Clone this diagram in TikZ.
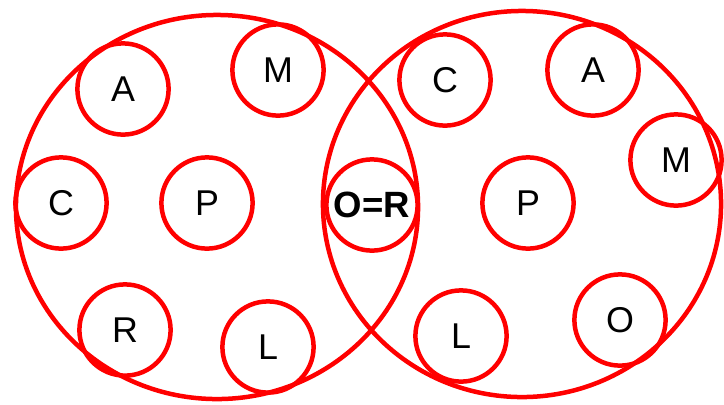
\documentclass[tikz,border=0pt]{standalone}
\usepackage{fontspec}
\setsansfont{Liberation Sans}
\usetikzlibrary{shapes.geometric}

\begin{document}
\begin{tikzpicture}[
    x=0.025cm, y=-0.025cm,
    font=\sffamily\fontsize{25.5}{30}\selectfont,
    set/.style={draw=red, line width=3.2pt, ellipse, inner sep=0pt},
    elem/.style={draw=red, line width=3.2pt, circle, inner sep=0pt,
                 minimum size=2.28cm, text=black}
]
\useasboundingbox (0,0) rectangle (724,404);

% Two sets
\node[set, minimum width=10.05cm, minimum height=9.6cm] (setL) at (217,207) {};
\node[set, minimum width=9.95cm, minimum height=9.65cm] (setR) at (522,204) {};

% Left set
\node[elem] (lA) at (123,89) {A};
\node[elem] (lM) at (278,70) {M};
\node[elem] (lC) at (61,203) {C};
\node[elem] (lP) at (207,203) {P};
\node[elem] (lR) at (125,330) {R};
\node[elem] (lL) at (268,347) {L};

% Shared element
\node[elem, font=\sffamily\bfseries\fontsize{26}{30}\selectfont] (mid) at (372,205) {O=R};

% Right set
\node[elem] (rC) at (445,80) {C};
\node[elem] (rA) at (593,70) {A};
\node[elem] (rM) at (676,160) {M};
\node[elem] (rP) at (528,203) {P};
\node[elem] (rL) at (461,336) {L};
\node[elem] (rO) at (620,320) {O};

\end{tikzpicture}
\end{document}
